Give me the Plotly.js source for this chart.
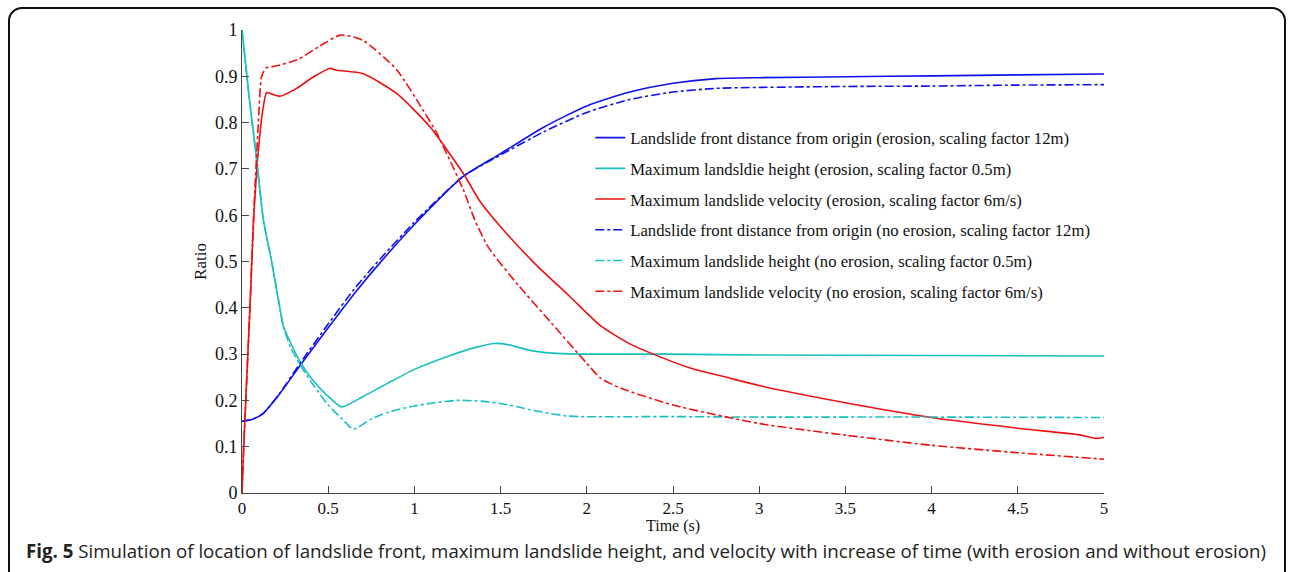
<!DOCTYPE html>
<html>
<head>
<meta charset="utf-8">
<script src="https://cdn.plot.ly/plotly-3.0.1.min.js"></script>
<style>
  html, body { margin: 0; padding: 0; background: #ffffff; }
  #wrap { position: relative; width: 1290px; height: 572px; overflow: hidden; }
  #chart { width: 1290px; height: 572px; }
  #frame { position: absolute; left: 8px; top: 7px; width: 1278px; height: 580px;
           border: 2px solid #111; border-radius: 14px; pointer-events: none; box-sizing: border-box; }
</style>
</head>
<body>
<div id="wrap">
  <div id="chart"></div>
  <div id="frame"></div>
</div>
<script>
// Landslide front distance from origin (erosion)
const tFrontEro = [0, 0.05, 0.12, 0.22, 0.34, 0.49, 0.65, 0.8, 1.0, 1.28, 1.5, 1.75, 2.0, 2.25, 2.5, 2.75, 3.0, 3.5, 4.0, 4.5, 5.0];
const rFrontEro = [0.155, 0.158, 0.171, 0.215, 0.277, 0.352, 0.43, 0.497, 0.58, 0.683, 0.733, 0.79, 0.836, 0.866, 0.885, 0.895, 0.897, 0.899, 0.901, 0.903, 0.905];
// Maximum landslide height (erosion)
const tHeightEro = [0, 0.04, 0.085, 0.124, 0.172, 0.21, 0.24, 0.29, 0.336, 0.41, 0.49, 0.578, 0.7, 0.85, 1.0, 1.2, 1.35, 1.46, 1.55, 1.67, 1.8, 1.95, 2.5, 3.0, 4.0, 5.0];
const rHeightEro = [1.0, 0.86, 0.72, 0.59, 0.5, 0.42, 0.36, 0.318, 0.284, 0.244, 0.212, 0.186, 0.208, 0.238, 0.267, 0.296, 0.314, 0.323, 0.32, 0.308, 0.302, 0.3, 0.3, 0.298, 0.297, 0.296];
// Maximum landslide velocity (erosion)
const tVelEro = [0, 0.01, 0.046, 0.066, 0.095, 0.124, 0.143, 0.17, 0.22, 0.317, 0.42, 0.51, 0.55, 0.70, 0.897, 1.09, 1.284, 1.38, 1.5, 1.7, 1.9, 2.077, 2.25, 2.425, 2.6, 2.83, 3.0, 3.5, 4.0, 4.5, 4.85, 4.9, 4.95, 5.0];
const rVelEro = [0, 0.1, 0.4, 0.58, 0.74, 0.835, 0.865, 0.862, 0.857, 0.874, 0.9, 0.917, 0.913, 0.906, 0.863, 0.791, 0.69, 0.63, 0.575, 0.495, 0.425, 0.362, 0.322, 0.294, 0.27, 0.248, 0.232, 0.195, 0.163, 0.14, 0.126, 0.122, 0.118, 0.12];
// Landslide front distance from origin (no erosion)
const tFrontNo = [0, 0.05, 0.12, 0.22, 0.34, 0.49, 0.65, 0.8, 1.0, 1.28, 1.5, 1.75, 2.0, 2.25, 2.5, 2.75, 3.0, 3.5, 4.0, 4.5, 5.0];
const rFrontNo = [0.155, 0.158, 0.171, 0.216, 0.282, 0.36, 0.44, 0.505, 0.585, 0.683, 0.73, 0.78, 0.822, 0.85, 0.866, 0.874, 0.876, 0.878, 0.879, 0.881, 0.882];
// Maximum landslide height (no erosion)
const tHeightNo = [0, 0.04, 0.085, 0.124, 0.172, 0.21, 0.24, 0.28, 0.34, 0.41, 0.5, 0.58, 0.646, 0.75, 0.85, 1.0, 1.12, 1.245, 1.4, 1.55, 1.67, 1.78, 1.87, 1.95, 2.5, 3.0, 4.0, 5.0];
const rHeightNo = [1.0, 0.86, 0.72, 0.59, 0.5, 0.42, 0.36, 0.316, 0.275, 0.235, 0.19, 0.16, 0.138, 0.16, 0.175, 0.188, 0.195, 0.2, 0.198, 0.19, 0.18, 0.172, 0.167, 0.165, 0.165, 0.164, 0.164, 0.163];
// Maximum landslide velocity (no erosion)
const tVelNo = [0, 0.01, 0.046, 0.07, 0.095, 0.114, 0.14, 0.18, 0.317, 0.45, 0.57, 0.70, 0.897, 1.05, 1.13, 1.284, 1.35, 1.43, 1.6, 1.8, 2.0, 2.08, 2.2, 2.5, 3.0, 3.5, 4.0, 4.5, 5.0];
const rVelNo = [0, 0.1, 0.4, 0.62, 0.8, 0.9, 0.918, 0.921, 0.935, 0.965, 0.989, 0.978, 0.914, 0.827, 0.777, 0.655, 0.59, 0.53, 0.45, 0.365, 0.28, 0.248, 0.226, 0.19, 0.15, 0.125, 0.103, 0.087, 0.073];

const seriesNames = [
  "Landslide front distance from origin (erosion, scaling factor 12m)",
  "Maximum landsldie height (erosion, scaling factor 0.5m)",
  "Maximum landslide velocity (erosion, scaling factor 6m/s)",
  "Landslide front distance from origin (no erosion, scaling factor 12m)",
  "Maximum landslide height (no erosion, scaling factor 0.5m)",
  "Maximum landslide velocity (no erosion, scaling factor 6m/s)"
];
const xTickVals = [0, 0.5, 1, 1.5, 2, 2.5, 3, 3.5, 4, 4.5, 5];
const yTickVals = [0, 0.1, 0.2, 0.3, 0.4, 0.5, 0.6, 0.7, 0.8, 0.9, 1];
const xTitle = "Time (s)";
const yTitle = "Ratio";
const captionBold = "Fig. 5";
const captionText = "Simulation of location of landslide front, maximum landslide height, and velocity with increase of time (with erosion and without erosion)";

const xs = [tFrontEro, tHeightEro, tVelEro, tFrontNo, tHeightNo, tVelNo];
const ys = [rFrontEro, rHeightEro, rVelEro, rFrontNo, rHeightNo, rVelNo];
const colors = ["#1010ee", "#19c0c0", "#ee1111", "#1010ee", "#19c0c0", "#ee1111"];
const dashes = ["solid", "solid", "solid", "dashdot", "dashdot", "dashdot"];

const traces = xs.map((x, i) => ({
  x: x, y: ys[i], type: "scatter", mode: "lines", name: seriesNames[i],
  legendgroup: "g" + i,
  line: { color: colors[i], width: 1.6, dash: dashes[i], shape: "spline", smoothing: 0.6 }
}));

const serif = "Liberation Serif, Times New Roman, serif";
const layout = {
  width: 1290, height: 572,
  margin: { l: 242, r: 186, t: 30, b: 79 },
  paper_bgcolor: "#ffffff", plot_bgcolor: "#ffffff",
  showlegend: true,
  legend: {
    x: 0.404, y: 0.805, xanchor: "left", yanchor: "top",
    bgcolor: "rgba(0,0,0,0)", borderwidth: 0,
    font: { family: serif, size: 16.7, color: "#111" },
    tracegroupgap: 6, itemwidth: 30
  },
  xaxis: {
    range: [0, 5], tickvals: xTickVals, ticks: "inside", ticklen: 7, tickcolor: "#444",
    showline: true, linecolor: "#444", linewidth: 1, mirror: false,
    showgrid: false, zeroline: false,
    tickfont: { family: serif, size: 17, color: "#111" }
  },
  yaxis: {
    range: [0, 1], tickvals: yTickVals, ticks: "inside", ticklen: 7, tickcolor: "#444",
    showline: true, linecolor: "#444", linewidth: 1, mirror: false,
    showgrid: false, zeroline: false,
    tickfont: { family: serif, size: 18, color: "#111" },
    title: { text: yTitle, font: { family: serif, size: 17, color: "#111" }, standoff: 3 }
  },
  annotations: [{
    xref: "paper", yref: "paper", x: 0.5, y: -0.071, xanchor: "center", yanchor: "middle",
    showarrow: false, text: xTitle,
    font: { family: serif, size: 16, color: "#111" }
  }, {
    xref: "paper", yref: "paper", x: -0.253, y: -0.125, xanchor: "left", yanchor: "middle",
    showarrow: false, align: "left",
    text: "<b>" + captionBold + "</b> " + captionText,
    font: { family: "Open Sans, Noto Sans, sans-serif", size: 18.7, color: "#222" }
  }]
};

Plotly.newPlot("chart", traces, layout, { displayModeBar: false, staticPlot: true });
</script>
</body>
</html>
